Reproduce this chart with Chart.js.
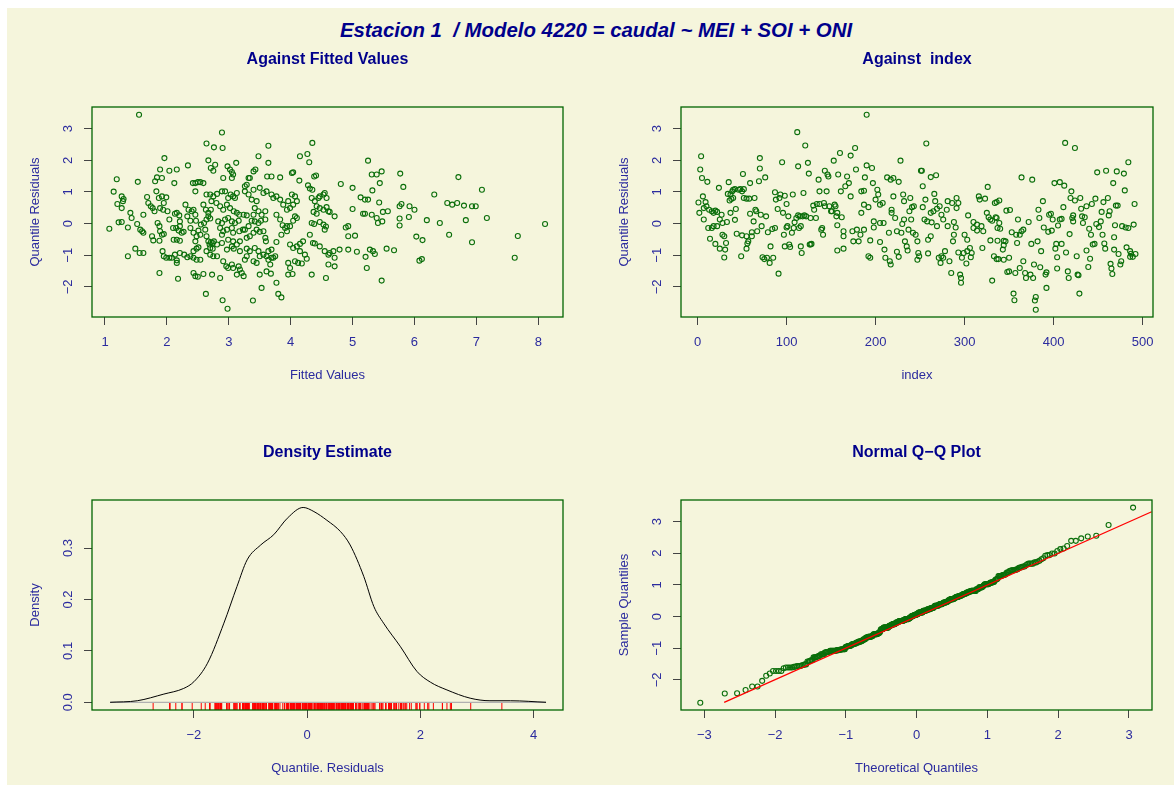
<!DOCTYPE html>
<html>
<head>
<meta charset="utf-8">
<script src="https://cdn.jsdelivr.net/npm/chart.js@4.4.0/dist/chart.umd.min.js"></script>
<style>
  body { margin: 0; width: 1174px; height: 785px; overflow: hidden; position: relative; background: #fff; }
  #bg { position: absolute; left: 7px; top: 8px; right: 0; bottom: 0; background: #f5f5dc; }
  #title { position: absolute; left: 16px; width: 1160px; top: 19px; line-height: 24px; text-align: center;
           white-space: pre; font: italic bold 20.4px "Liberation Sans", Arial, sans-serif; color: #00008b; }
  canvas { position: absolute; }
</style>
</head>
<body>
<div id="bg"></div>
<div id="title">Estacion 1  / Modelo 4220 = caudal ~ MEI + SOI + ONI</div>
<canvas id="c1"></canvas>
<canvas id="c2"></canvas>
<canvas id="c3"></canvas>
<canvas id="c4"></canvas>
<script>
// --- residuals against index ---
const obsIndex = [
  1,2,3,4,5,6,7,7,9,10, 11,12,13,14,16,16,18,18,20,20, 22,22,24,25,25,27,28,28,30,30,
  31,32,33,34,35,36,37,37,38,39, 40,40,42,42,43,44,46,48,49,50, 50,51,52,52,55,55,55,56,57,58,
  59,59,61,61,63,64,65,66,67,69, 70,70,71,72,73,75,76,77,78,79, 81,82,84,85,87,87,88,90,91,92,
  93,95,96,97,98,98,100,100,101,102, 103,104,106,107,108,109,111,112,113,113, 114,115,116,117,116,118,119,120,121,122,
  124,125,126,127,128,127,130,131,133,134, 136,137,137,139,140,141,142,143,143,145, 146,147,148,150,151,153,154,155,156,157,
  157,157,158,160,161,162,
  164,164,164,166,168,170,172,172,174,175, 177,178,179,181,183,184,184,187,187,187, 188,190,190,192,192,194,194,196,197,198,
  198,200,202,203,205,205,205,208,209,210, 211,213,215,216,217,217,218,218,220,220, 222,224,224,226,226,228,229,230,231,232,
  232,233,235,236,237,238,239,240,241,242, 243,245,247,247,248,249,251,252,253,253, 255,256,257,258,259,259,262,262,262,263,
  265,266,267,268,269,269,271,272,273,274, 274,276,276,278,280,281,281,283,285,286, 287,288,288,290,291,291,293,293,295,296,
  296,297,299,300,302,303,303,304,306,307, 308,310,310,314,314,316,317,319,320,321, 323,325,326,327,329,331,331,333,334,336,
  336,337,336,339,329,335,339,337,338,
  340,343,344,344,344,346,347,348,350,350, 351,353,355,356,357,358,359,360,362,362, 364,364,366,366,368,369,372,374,375,376,
  377,378,379,380,380,382,383,384,385,386, 388,389,391,392,392,394,395,397,398,399, 401,402,403,404,404,405,407,407,409,409,
  411,412,413,414,416,417,418,419,420,421, 422,422,424,424,426,427,428,429,430,431, 432,433,435,437,437,439,440,441,442,443,
  444,446,447,448,449,451,453,454,455,456, 457,458,459,461,462,463,464,465,466,467, 468,468,469,470,471,472,473,475,476,477,
  479,480,481,482,484,484,486,486,487,489, 490,491,492
];
const obsResid = [
  .67,.34,1.71,2.13,1.44,.86,.13,.49,.68,.55, 1.32,-.14,.44,-.48,.39,-.14,.34,-.08,.41,-.64, .37,-.08,1.13,.13,-.79,.28,.02,-.35,-1.07,-.40,
  -.82,-.61,.05,.94,1.31,.73,.92,.34,.78,1.02, 1.07,.81,1.09,.12,.46,-.32,1.07,1.09,-1.03,1.02, -.37,1.57,1.09,.81,.79,-.79,-.40,-.63,-.56,.79,
  1.28,.31,-.40,-.27,.07,.81,.44,.39,-.24,1.34, 1.74,2.07,.28,-.08,-1.06,-1.12,1.46,.23,-1.08,-.27, -1.24,-.72,-.17,-1.08,.99,-.14,.76,.46,-1.58,.81,
  .92,1.94,.34,-.35,.88,-.72,-.12,.62,-.08,.23, -.66,-.74,-.29,.92,-.14,.04,.18,2.89,.26,1.81, -.14,.23,-.72,-.93,-.08,.23,.97,.26,2.47,.23,
  1.92,1.58,-.66,-.66,-.64,.18,.57,.44,.18,.62, 1.39,.62,1.02,-.19,-.14,-.35,.65,1.67,.55,1.02, 1.55,1.49,.55,.39,.39,1.99,.60,.55,.23,.34,
  -.05,-.85,1.55,2.23,1.02,.20,
  -.24,-.40,-.79,1.18,1.49,1.28,2.15,.86,-.24,-.56, 2.39,1.71,-.19,-.56,-.35,1.02,.34,1.04,.60,-.19, 1.46,3.44,1.84,.52,-1.03,-1.08,-.53,1.76,1.28,.07,
  -.12,.76,1.07,.92,-.58,.60,.02,.65,.02,-.82, -1.08,1.46,-.29,-1.19,1.39,-1.29,.44,.34,1.44,.86, .18,-.24,-.89,1.32,-1.05,1.99,-.29,-.01,.92,.71,
  .13,-.56,-.72,-.85,-.19,.39,.81,.13,.52,-.29, .55,-.35,-.56,-1.14,-.93,-1.03,1.67,1.67,1.18,.52, .13,.76,2.53,.07,-.51,-.94,-.40,.34,1.47,.04,
  .39,.94,.71,1.53,.47,-.08,-1.08,.55,-1.24,.28, -1.03,.13,-1.08,-.87,.44,.71,-.08,-1.19,-1.56,.65, -.56,.05,-.35,-.12,.49,.81,.65,-.91,-1.61,-1.72,
  -1.87,-1.08,-.93,-.35,-1.26,-.51,-.87,.26,-.77,-1.06, -.93,.05,-.14,-.22,-.03,.86,.76,-.08,-.77,-.24, .79,.34,1.16,.20,-.53,-1.80,.09,-1.03,.65,.18,
  -1.12,-.14,.68,.73,.13,.20,.02,-.54,-1.12,
  -.16,-.82,-.54,-.68,-1.14,-.56,.41,-1.53,-1.08,-1.51, .43,-.27,-2.21,-2.42,-1.56,-.35,-.61,.13,-1.40,-.35, 1.46,-.24,-.19,-1.19,-1.56,-1.72,.05,-1.61,-.64,1.39,
  -1.72,-1.29,-2.43,-2.72,-2.32,-.56,.44,.18,-1.38,-.87, .71,-.12,-1.61,-2.03,-1.54,-.26,.28,.31,-.22,.13, 1.28,-.79,-.64,-1.42,-1.06,-.06,1.31,.13,-.64,.15,
  .52,1.20,2.55,-.91,-1.51,-1.72,-.33,.81,1.02,.18, .26,.07,2.39,.73,-1.03,-1.61,-1.63,-2.21,.81,.47, .23,.02,.20,.55,-.85,-1.37,-.16,-1.11,-.35,.62,
  -.66,-.64,.79,-.01,1.62,-.11,.07,.37,-.35,.68, -.63,-.79,1.67,.81,.26,.39,-1.27,-1.42,-1.59,1.28, -.43,-.82,-.05,.57,1.65,.57,-.96,-1.29,-1.19,-.08,
  1.58,1.05,-.12,-.75,1.94,-.14,-.87,-1.05,-.95,-1.05, -.03,.62,-.96
];

// --- residuals against fitted values (upper left panel) ---
const fitted = [
  1.55,1.07,1.14,1.19,1.20,1.27,1.29,1.30,1.27,1.22, 1.27,1.37,1.37,1.41,1.43,1.49,1.52,1.53,1.56,1.62,
  1.57,1.60,1.62,1.62,1.68,1.70,1.74,1.77,1.80,1.76, 1.78,1.81,1.84,1.89,1.92,1.83,1.87,1.92,1.95,1.99,
  1.89,1.94,1.85,1.88,1.89,1.92,1.95,1.88,1.93,1.95, 1.99,2.04,2.08,1.88,1.96,2.01,2.04,2.16,2.12,2.04,
  2.10,2.13,2.16,2.20,2.21,2.21,2.15,2.19,2.24,2.27, 2.11,2.16,2.21,2.13,2.16,2.16,2.18,2.21,2.28,2.33,
  2.38,2.43,2.48,2.54,2.34,2.30,2.35,2.33,2.38,2.40, 2.43,2.46,2.47,2.38,2.43,2.48,2.51,2.54,2.46,2.43,
  2.48,2.51,2.42,2.46,2.50,2.54,2.59,2.46,2.43,2.46, 2.50,2.59,2.63,2.64,2.76,2.90,2.67,2.71,2.75,2.78,
  2.64,2.70,2.72,2.75,2.81,2.80,2.59,2.63,2.67,2.71, 2.55,2.60,2.64,2.67,2.70,2.62,2.64,2.67,2.69,2.71,
  2.74,2.70,2.74,2.76,2.64,2.70,2.75,2.81,2.73,2.86, 2.89,2.90,2.98,2.91,2.98,3.02,3.05,3.07,3.12,3.05,
  2.89,2.94,2.99,3.03,3.07,3.10,3.13,2.86,2.91,2.97, 3.02,3.08,3.13,3.17,2.83,2.89,2.94,2.99,3.05,3.10,
  3.16,2.86,2.91,2.97,3.05,3.07,3.17,3.23,2.89,2.99, 3.07,3.13,3.18,2.81,2.89,2.97,3.05,3.08,3.18,2.91,
  2.96,2.99,3.05,3.07,3.16,3.18,3.21,3.13,3.32,3.29, 3.26,3.32,
  3.26,3.24,3.29,3.26,3.29,3.29,3.24,3.29,3.26,3.34, 3.40,3.43,3.48,3.64,3.64,3.62,3.69,3.83,3.50,3.56,
  3.61,3.69,3.72,3.77,3.83,3.40,3.37,3.45,3.42,3.40, 3.48,3.53,3.59,3.32,3.37,3.42,3.48,3.52,3.59,3.34,
  3.40,3.45,3.50,3.56,3.59,3.60,3.34,3.42,3.48,3.56, 3.64,3.69,3.72,3.40,3.45,3.50,3.61,3.64,3.67,3.69,
  3.75,3.50,3.61,3.68,3.96,4.03,4.34,4.57,3.53,3.77, 3.80,3.85,3.39,3.77,3.85,3.94,3.99,4.04,4.07,4.10,
  3.88,3.94,3.99,3.96,4.02,4.07,4.10,4.04,3.77,3.83, 3.87,3.91,3.94,3.99,4.04,4.10,4.15,4.20,4.15,4.23,
  4.26,4.12,4.18,4.07,3.96,3.99,4.02,4.04,4.14,4.15, 4.27,4.30,4.35,4.28,4.31,4.35,4.38,4.41,4.34,4.39,
  4.45,4.47,4.53,4.55,4.58,4.42,4.47,4.53,4.58,4.61, 4.63,4.71,4.42,4.37,4.34,4.38,4.47,4.53,4.57,4.55,
  4.31,4.36,4.39,4.47,4.55,4.61,4.63,4.69,4.71,4.61, 4.71,4.81,5.00,5.00,4.93,4.89,4.93,5.04,4.79,4.93,
  5.07,5.13,5.20,5.25,5.17,5.20,5.31,5.39,5.41,5.48, 5.49,5.57,5.25,5.31,5.39,5.47,5.44,5.32,5.43,5.28,
  5.33,5.36,5.21,5.23,5.55,5.67,5.47,5.77,5.82,
  5.79,5.76,5.76,5.76,5.91,5.92,6.00,6.03,6.13,6.08, 6.12,6.20,6.32,6.41,6.53,6.61,6.69,6.56,6.71,6.80,
  6.83,6.93,6.99,6.93,7.09,7.17,7.62,7.67,8.11
];
const fittedResid = [
  3.44,-.16,1.01,1.40,.62,.86,.71,.78,.49,.04, .05,-.12,-1.03,.34,.18,-.79,-.01,1.32,-.93,-.93,
  -.19,-.24,-.29,.28,.84,.65,.55,.49,.39,-.40, -.53,1.34,1.46,1.71,1.44,1.02,.81,.86,.65,.83,
  .49,.44,.02,-.08,-.24,-.35,-.33,-.54,-.87,-1.03, -1.08,-1.08,-1.08,-1.56,2.07,.39,1.67,1.71,1.28,.13,
  -.14,.31,.34,.26,.07,-.08,-.14,-.22,-.29,-.26, -.51,-.51,-.54,-.98,-1.16,-1.24,-1.74,-.93,-.98,-1.06,
  -1.03,-1.08,-1.14,-1.14,1.84,.60,.44,.23,.09,.39, .44,.28,.09,-.14,-.29,-.40,-.22,-.35,-.56,-.87,
  -.79,-.75,1.28,1.28,1.31,1.31,1.28,1.02,-1.56,-1.66, -1.68,-1.59,-2.22,2.53,2.41,2.39,2.00,1.76,1.67,1.86,
  .92,.92,.71,.86,.94,.65,.60,.44,.34,.44, -.03,.02,.13,.23,.16,-.19,-.40,-.56,-.66,-.59,
  -.61,-.77,-.79,-.56,-.87,-.98,-1.03,-1.03,-1.61,-1.72, 2.88,-2.42,-2.69,1.44,1.81,1.71,1.63,1.55,1.92,1.44,
  1.02,1.02,.81,.92,.86,.81,.97,.55,.44,.60, .49,.39,.34,.28,.07,.02,.13,.18,.07,.02,
  .09,-.14,-.24,-.19,-.14,-.29,-.24,-.19,-.35,-.51, -.56,-.66,-.56,-.66,-.61,-.82,-.72,-.79,-.87,-1.19,
  -1.35,-1.40,-1.29,-1.40,-1.35,-1.45,-1.56,-1.61,1.44,1.23, 1.02,.92,
  1.18,.28,.26,-.19,-.45,-.79,-1.66,-1.03,-1.14,1.44, 1.65,1.71,2.13,2.46,1.92,1.49,1.49,1.46,1.13,.97,
  1.02,.92,.81,.86,.76,1.07,.76,.71,.49,.28, .39,.28,.39,-.08,.09,.07,.02,.09,.13,-.40,
  -.29,-.19,-.26,-.24,-.45,-.56,-.87,-.77,-.87,-.98, -.87,-.82,-1.08,-1.19,-1.24,-1.03,-1.03,-1.14,-1.29,-1.08,
  -1.03,-1.61,-1.51,-1.58,-1.61,-1.59,-1.61,-1.72,-2.03,-1.87, -2.22,-2.33,-2.43,-.58,-.35,-.24,-.08,.09,.23,.18,
  .60,.44,.49,.71,.92,.86,.71,.60,.28,.13, -.05,-.14,-.08,-.66,-.77,-.72,-.64,-.56,-.87,-.98,
  -1.11,-1.24,-1.26,-1.19,-1.24,-1.40,1.60,1.62,1.36,2.13, 2.20,1.94,2.55,1.21,1.11,1.07,1.49,1.52,.81,.71,
  .81,.86,.92,.97,.81,.55,.49,.44,.52,.39, .37,.23,.31,.37,.02,-.01,.05,-.03,-.09,-.19,
  -.35,-.61,-.63,-.72,-.87,-.98,-.93,-.87,-1.08,-1.29, -1.35,1.25,1.13,.46,-.08,-.12,-.40,-.38,-.82,-.82,
  -.89,.83,.76,.76,.31,.31,.28,.18,.02,.07, .37,.39,1.99,1.55,1.55,1.65,1.28,1.05,.67,-.82,
  -.87,-.96,-1.05,-1.40,-.79,-.84,-1.80,1.58,1.16,
  .62,.55,.16,-.06,.21,.55,.44,-.41,-.52,-1.17, -1.12,.11,.92,.02,.65,.60,.65,-.35,1.47,.57,
  .11,.55,.55,-.59,1.07,.18,-1.08,-.39,-.01
];

// --- kernel density curve, read at these x positions ---
const densX = [-3.48,-3.0,-2.53,-2.18,-2.0,-1.76,-1.47,-1.24,-1.06,-0.82,-0.59,-0.35,-0.07,0.12,
               0.35,0.59,0.76,1.0,1.18,1.35,1.65,1.94,2.18,2.47,2.88,3.23,3.59,4.22];
const densY = [0,0.003,0.016,0.027,0.040,0.076,0.154,0.225,0.277,0.306,0.326,0.358,0.379,0.371,
               0.354,0.332,0.306,0.245,0.186,0.154,0.108,0.060,0.039,0.024,0.008,0.003,0.003,0];

// qqline end points as drawn
const qqLineX = [-2.72, 3.32];
const qqLineY = [-2.71, 3.31];

// tick values
const fitTicks = [1, 2, 3, 4, 5, 6, 7, 8];
const residTicks = [-2, -1, 0, 1, 2, 3];
const indexTicks = [0, 100, 200, 300, 400, 500];
const densXTicks = [-2, 0, 2, 4];
const densYTicks = [0, 0.1, 0.2, 0.3];
const theoTicks = [-3, -2, -1, 0, 1, 2, 3];

const ptGreen = '#0a6e0a';
const titleInk = '#00008b';
const labelInk = '#2b2b9e';
const FONT = '"Liberation Sans", Arial, sans-serif';

// inverse normal cdf (Acklam) for the theoretical quantiles of the Q-Q plot
function qnorm(p) {
  const a = [-3.969683028665376e+01, 2.209460984245205e+02, -2.759285104469687e+02, 1.383577518672690e+02, -3.066479806614716e+01, 2.506628277459239e+00];
  const b = [-5.447609879822406e+01, 1.615858368580409e+02, -1.556989798598866e+02, 6.680131188771972e+01, -1.328068155288572e+01];
  const c = [-7.784894002430293e-03, -3.223964580411365e-01, -2.400758277161838e+00, -2.549732539343734e+00, 4.374664141464968e+00, 2.938163982698783e+00];
  const d = [7.784695709041462e-03, 3.224671290700398e-01, 2.445134137142996e+00, 3.754408661907416e+00];
  const lo = 0.02425;
  let q, r;
  if (p < lo) {
    q = Math.sqrt(-2 * Math.log(p));
    return (((((c[0]*q+c[1])*q+c[2])*q+c[3])*q+c[4])*q+c[5]) / ((((d[0]*q+d[1])*q+d[2])*q+d[3])*q+1);
  }
  if (p > 1 - lo) {
    q = Math.sqrt(-2 * Math.log(1 - p));
    return -(((((c[0]*q+c[1])*q+c[2])*q+c[3])*q+c[4])*q+c[5]) / ((((d[0]*q+d[1])*q+d[2])*q+d[3])*q+1);
  }
  q = p - 0.5; r = q * q;
  return (((((a[0]*r+a[1])*r+a[2])*r+a[3])*r+a[4])*r+a[5])*q / (((((b[0]*r+b[1])*r+b[2])*r+b[3])*r+b[4])*r+1);
}

const fmtNum = (v, kind) => {
  const s = kind === 'dec1' ? v.toFixed(1) : String(v);
  return s.replace('-', '\u2212');
};

// box, tick labels and titles, R style
const framePlugin = {
  id: 'frame',
  afterDraw(chart, args, o) {
    const { ctx, chartArea: a } = chart;
    const x = chart.scales.x, y = chart.scales.y;
    ctx.save();
    ctx.strokeStyle = '#006400';
    ctx.lineWidth = 1.3;
    ctx.strokeRect(a.left, a.top, a.right - a.left, a.bottom - a.top);

    ctx.fillStyle = labelInk;
    ctx.font = '13px ' + FONT;
    ctx.textAlign = 'center';
    ctx.textBaseline = 'middle';
    x.ticks.forEach(t => ctx.fillText(fmtNum(t.value, o.xFmt), x.getPixelForValue(t.value), a.bottom + 25));
    y.ticks.forEach(t => {
      ctx.save();
      ctx.translate(a.left - 24, y.getPixelForValue(t.value));
      ctx.rotate(-Math.PI / 2);
      ctx.fillText(fmtNum(t.value, o.yFmt), 0, 0);
      ctx.restore();
    });
    ctx.fillText(o.xTitle, (a.left + a.right) / 2, a.bottom + 58);
    ctx.save();
    ctx.translate(a.left - 57, (a.top + a.bottom) / 2);
    ctx.rotate(-Math.PI / 2);
    ctx.fillText(o.yTitle, 0, 0);
    ctx.restore();

    ctx.fillStyle = titleInk;
    ctx.font = 'bold 16px ' + FONT;
    ctx.fillText(o.title, (a.left + a.right) / 2, a.top - 47);
    ctx.restore();
  }
};

function axis(range, ticks, fit) {
  return {
    type: 'linear', min: range[0], max: range[1],
    afterFit: fit,
    afterBuildTicks: s => { s.ticks = ticks.map(v => ({ value: v })); },
    ticks: { display: false },
    border: { display: false },
    grid: { drawOnChartArea: false, drawTicks: true, tickLength: 8, color: '#444', lineWidth: 1 }
  };
}

function makePanel(id, cx, cy, cw, ch, box, o) {
  const cv = document.getElementById(id);
  cv.style.left = cx + 'px';
  cv.style.top = cy + 'px';
  cv.width = cw;
  cv.height = ch;
  return new Chart(cv, {
    type: 'scatter',
    data: { datasets: o.datasets },
    options: {
      responsive: false, animation: false, devicePixelRatio: 1, events: [],
      layout: { autoPadding: false, padding: { left: 0, bottom: 0, top: box.t - cy, right: cx + cw - box.r } },
      plugins: { legend: { display: false }, tooltip: { enabled: false }, frame: o.frame },
      scales: {
        x: axis(o.xr, o.xt, s => { s.height = cy + ch - box.b; }),
        y: axis(o.yr, o.yt, s => { s.width = box.l - cx; })
      }
    },
    plugins: [framePlugin]
  });
}

const circles = {
  pointStyle: 'circle', pointRadius: 2.5, borderWidth: 1.1,
  borderColor: ptGreen, backgroundColor: 'rgba(0,0,0,0)'
};

// 1: against fitted values
makePanel('c1', 0, 0, 587, 392, { l: 92, t: 107, r: 563, b: 317 }, {
  xr: [0.79, 8.40], yr: [-2.95, 3.685], xt: fitTicks, yt: residTicks,
  datasets: [{ ...circles, data: fitted.map((f, i) => ({ x: f, y: fittedResid[i] })) }],
  frame: { title: 'Against Fitted Values', xTitle: 'Fitted Values', yTitle: 'Quantile Residuals' }
});

// 2: against index
makePanel('c2', 587, 0, 587, 392, { l: 681, t: 107, r: 1153, b: 317 }, {
  xr: [-18.6, 511.7], yr: [-2.95, 3.685], xt: indexTicks, yt: residTicks,
  datasets: [{ ...circles, data: obsIndex.map((k, i) => ({ x: k, y: obsResid[i] })) }],
  frame: { title: 'Against  index', xTitle: 'index', yTitle: 'Quantile Residuals' }
});

// 3: density estimate with rug
const densRange = [-0.015, 0.3935];
makePanel('c3', 0, 392, 587, 393, { l: 92, t: 500, r: 563, b: 710 }, {
  xr: [-3.80, 4.52], yr: densRange, xt: densXTicks, yt: densYTicks,
  datasets: [
    { data: densX.map((v, i) => ({ x: v, y: densY[i] })), showLine: true, pointRadius: 0,
      borderColor: '#000', borderWidth: 1, cubicInterpolationMode: 'monotone' },
    { data: [{ x: densX[0], y: 0 }, { x: densX[densX.length - 1], y: 0 }], showLine: true,
      pointRadius: 0, borderColor: '#b0b0b0', borderWidth: 1.2 },
    { data: obsResid.map(r => ({ x: r, y: densRange[0] + 0.0068 })), pointStyle: 'line', rotation: 90,
      pointRadius: 3.5, borderWidth: 1, borderColor: '#ff0000' }
  ],
  frame: { title: 'Density Estimate', xTitle: 'Quantile. Residuals', yTitle: 'Density', yFmt: 'dec1' }
});

// 4: normal Q-Q plot of the same residuals
const sortedResid = obsResid.slice().sort((p, q) => p - q);
const nObs = sortedResid.length;
makePanel('c4', 587, 392, 587, 393, { l: 681, t: 500, r: 1152, b: 710 }, {
  xr: [-3.33, 3.325], yr: [-2.95, 3.68], xt: theoTicks, yt: residTicks,
  datasets: [
    { data: qqLineX.map((v, i) => ({ x: v, y: qqLineY[i] })), showLine: true, pointRadius: 0,
      borderColor: '#ff0000', borderWidth: 1.3 },
    { ...circles, data: sortedResid.map((r, i) => ({ x: qnorm((i + 0.5) / nObs), y: r })) }
  ],
  frame: { title: 'Normal Q\u2212Q Plot', xTitle: 'Theoretical Quantiles', yTitle: 'Sample Quantiles' }
});
</script>
</body>
</html>
